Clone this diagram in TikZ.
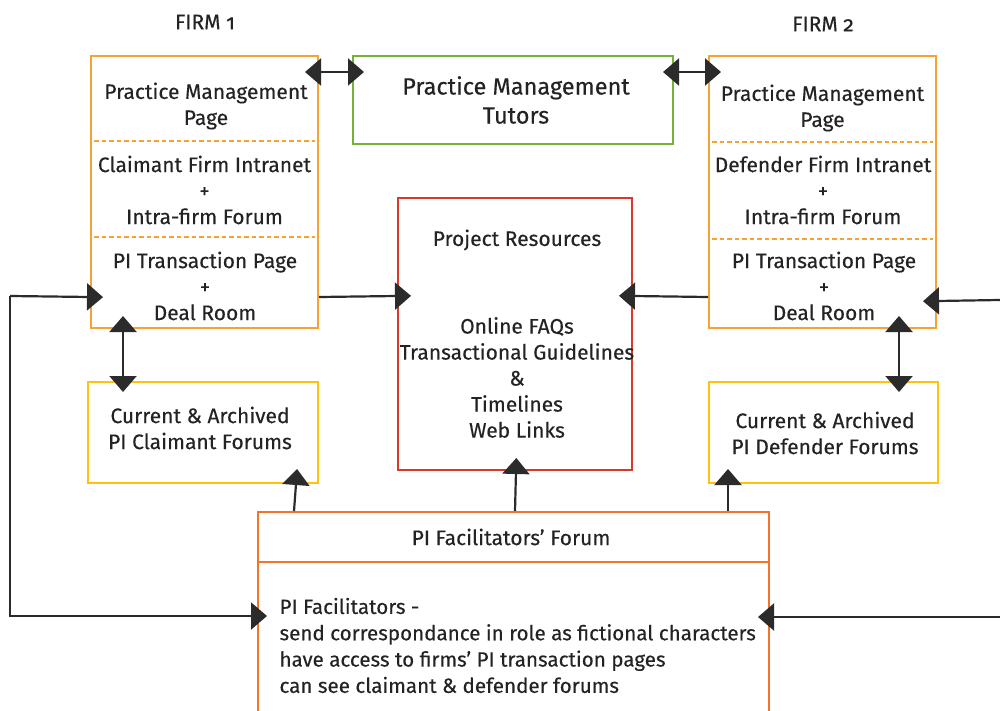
\documentclass[tikz,border=0pt]{standalone}
\usepackage{fontspec}
\setmainfont{Fira Sans}[UprightFeatures={FakeBold=0.3}]
\usetikzlibrary{arrows.meta}

\definecolor{firmorange}{HTML}{F7A234}
\definecolor{tutorgreen}{HTML}{72B236}
\definecolor{resred}{HTML}{D9382A}
\definecolor{forumyellow}{HTML}{FFC20E}
\definecolor{facilorange}{HTML}{F37329}
\definecolor{linkgray}{HTML}{2B2B2B}
\definecolor{textgray}{HTML}{232323}

\tikzset{
  box/.style={draw, line width=2pt, inner sep=0pt},
  txt/.style={align=center, font=\fontsize{21}{26}\selectfont, text=textgray},
  link/.style={line width=2.2pt, draw=linkgray},
  sep line/.style={draw=firmorange, line width=2.8pt, dash pattern=on 4.5pt off 3pt},
  >={Triangle[width=27pt,length=16pt]}
}

\begin{document}
\begin{tikzpicture}[x=1pt,y=-1pt]
\useasboundingbox (0,0) rectangle (1000,711);
\clip (0,0) rectangle (1000,711);

% boxes
\node[box, draw=firmorange, minimum width=227pt, minimum height=272pt] (firmA) at (204.5,192) {};
\node[box, draw=firmorange, minimum width=227pt, minimum height=272pt] (firmB) at (822.5,192) {};
\node[box, draw=tutorgreen, minimum width=320pt, minimum height=88pt] (tutors) at (513,100) {};
\node[box, draw=resred, minimum width=234pt, minimum height=272pt] (resources) at (515,334) {};
\node[box, draw=forumyellow, minimum width=230pt, minimum height=101pt] (claimForum) at (203,432.5) {};
\node[box, draw=forumyellow, minimum width=229pt, minimum height=101pt] (defendForum) at (823.5,432.5) {};
\node[box, draw=facilorange, minimum width=511pt, minimum height=230pt, anchor=north] (facil) at (513.5,511) {};

% section lines
\draw[sep line] ([xshift=4pt,yshift=-86pt]firmA.north west) -- ([xshift=-4pt,yshift=-86pt]firmA.north east);
\draw[sep line] ([xshift=4pt,yshift=-182pt]firmA.north west) -- ([xshift=-4pt,yshift=-182pt]firmA.north east);
\draw[sep line] ([xshift=4pt,yshift=-87pt]firmB.north west) -- ([xshift=-4pt,yshift=-87pt]firmB.north east);
\draw[sep line] ([xshift=4pt,yshift=-184pt]firmB.north west) -- ([xshift=-4pt,yshift=-184pt]firmB.north east);
\draw[draw=facilorange, line width=2pt] ([yshift=-51pt]facil.north west) -- ([yshift=-51pt]facil.north east);

% texts
\node[txt, font=\fontsize{21}{22}\selectfont\addfontfeature{Numbers=OldStyle}] (firmAlabel) at (205,22) {FIRM 1};
\node[txt, font=\fontsize{21}{22}\selectfont\addfontfeature{Numbers=OldStyle}] (firmBlabel) at (823,24) {FIRM 2};

\node[txt] (pmA) at (206,106) {Practice Management\\Page};
\node[txt] (intraA) at (204.5,190) {Claimant Firm Intranet\\+\\Intra-firm Forum};
\node[txt] (dealA) at (205,286) {PI Transaction Page\\+\\Deal Room};

\node[txt] (pmB) at (822.5,108) {Practice Management\\Page};
\node[txt] (intraB) at (823,190) {Defender Firm Intranet\\+\\Intra-firm Forum};
\node[txt] (dealB) at (824,286) {PI Transaction Page\\+\\Deal Room};

\node[txt, font=\fontsize{23.5}{29}\selectfont] (tutorText) at (516,100) {Practice Management\\Tutors};

\node[txt] (resTitle) at (517,240) {Project Resources};
\node[txt] (resText) at (517,377.5) {Online FAQs\\Transactional Guidelines\\\&\\Timelines\\Web Links};

\node[txt] (claimText) at (200,428) {Current \& Archived\\PI Claimant Forums};
\node[txt] (defendText) at (825,433) {Current \& Archived\\PI Defender Forums};

\node[txt] (facilTitle) at (511,537) {PI Facilitators’ Forum};
\node[txt, font=\fontsize{20.6}{26.3}\selectfont, align=left, anchor=west] (facilText) at (276,645.5) {PI Facilitators -\\send correspondance in role as fictional characters\\have access to firms’ PI transaction pages\\can see claimant \& defender forums};

% connectors
\coordinate (loopL) at (10,296);
\coordinate (loopLb) at (10,616);
\coordinate (loopR) at (1000,300);
\coordinate (loopRb) at (1000,617);

\draw[link,<->,shorten <=-14pt,shorten >=-12pt] ([yshift=-17pt]firmA.north east) -- ([yshift=-17pt]tutors.north west);
\draw[link,<->,shorten <=-11pt,shorten >=-13pt] ([yshift=-17pt]tutors.north east) -- ([yshift=-17pt]firmB.north west);

\draw[link,->,shorten >=-14pt] ([yshift=32pt]firmA.south east) -- ([yshift=38pt]resources.west);
\draw[link,->,shorten >=-14pt] ([yshift=32pt]firmB.south west) -- ([yshift=38pt]resources.east);

\draw[link,->,shorten >=-13pt] (loopL) -- ([yshift=32pt]firmA.south west);
\draw[link,->,shorten >=-10pt] (loopL) -- (loopLb) -- ([yshift=-105pt]facil.north west);
\draw[link,->,shorten >=-14pt] (loopR) -- ([yshift=28pt]firmB.south east);
\draw[link,->,shorten >=-12pt] (loopRb) -- ([yshift=-106pt]facil.north east);

\draw[link,<->,shorten <=-13pt,shorten >=-11pt] ([xshift=33pt]firmA.south west) -- ([xshift=36pt]claimForum.north west);
\draw[link,<->,shorten <=-13pt,shorten >=-11pt] ([xshift=191pt]firmB.south west) -- ([xshift=191pt]defendForum.north west);

\draw[link,->,shorten >=-15pt] ([xshift=37pt]facil.north west) -- ([xshift=-23pt]claimForum.south east);
\draw[link,->,shorten >=-13pt] ([xshift=258pt]facil.north west) -- ([xshift=1pt]resources.south);
\draw[link,->,shorten >=-15pt] ([xshift=471pt]facil.north west) -- ([xshift=20pt]defendForum.south west);
\end{tikzpicture}
\end{document}
